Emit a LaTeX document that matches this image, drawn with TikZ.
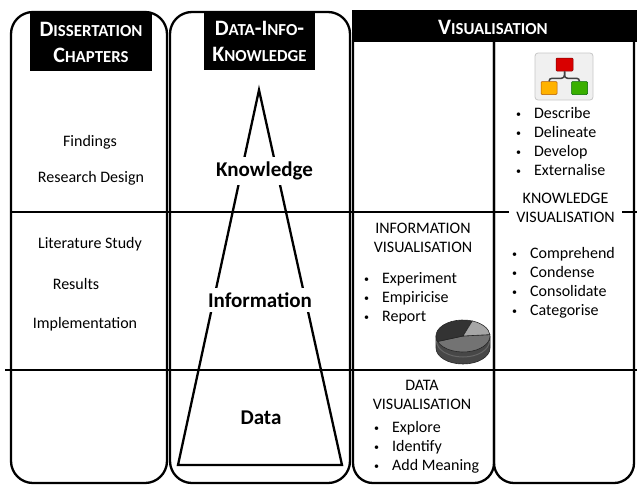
\documentclass[tikz,border=0pt]{standalone}
\usepackage{fontspec}
\setmainfont{Carlito}
\newcommand\hcap[2]{{\fontsize{22}{26}\selectfont #1}{\fontsize{16.8}{26}\selectfont #2}}
\newcommand\bul{\makebox[18pt][l]{\raisebox{1pt}{\fontsize{10}{10}\selectfont\textbullet}}}
\begin{document}
\begin{tikzpicture}[x=1pt,y=-1pt,line width=2.3pt,
  hdr/.style={fill=black,text=white,font=\bfseries\fontsize{22}{26}\selectfont,align=center,inner sep=0pt},
  lbl/.style={font=\fontsize{16}{19}\selectfont,inner sep=0pt},
  big/.style={font=\fontsize{21}{24}\selectfont\bfseries,fill=white,inner xsep=2pt,inner ysep=5pt},
  vcap/.style={font=\fontsize{16}{19}\selectfont,align=center,inner sep=1pt},
  item/.style={font=\fontsize{16}{19}\selectfont,anchor=west,inner sep=0pt,text height=9.5pt,text depth=3pt},
  kbox/.style={draw,line width=0.5pt,rounded corners=1pt,minimum width=16pt,minimum height=13pt,inner sep=0pt}]
\useasboundingbox (0,0) rectangle (637,485);
% columns
\draw[rounded corners=22] (11,12) rectangle (167,483);
\draw[rounded corners=22] (170,12) rectangle (350,483);
\draw[rounded corners=20] (353,40) -- (353,483) -- (494,483) -- (494,40);
\draw[rounded corners=20] (494,40) -- (494,483) -- (634,483) -- (634,40);
\fill (352,10) rectangle (637,42);
% rows
\draw (11,212) -- (637,212);
\draw (5,370) -- (637,370);
% headers
\node[hdr,minimum width=122,minimum height=58] (diss) at (91,42) {\hcap{D}{ISSERTATION}\\\hcap{C}{HAPTERS}};
\node[hdr,minimum width=111,minimum height=57] (dik) at (259.5,41.5) {\hcap{D}{ATA}-\hcap{I}{NFO}-\\\hcap{K}{NOWLEDGE}};
\node[hdr] (vis) at (493,27) {\hcap{V}{ISUALISATION}};
% chapters
\node[lbl] (find) at (90,142) {Findings};
\node[lbl] (rdes) at (91,178) {Research Design};
\node[lbl] (lit) at (90,244) {Literature Study};
\node[lbl] (res) at (76,284) {Results};
\node[lbl] (impl) at (85,324) {Implementation};
% pyramid
\coordinate (apex) at (259,90);
\coordinate (bl) at (178,465);
\coordinate (br) at (342,465);
\draw (bl) -- (apex) -- (br) -- cycle;
\node[big] (know) at (264.5,171) {Knowledge};
\node[big] (info) at (260,300) {Information};
\node[big] (data) at (261,418) {Data};
% information visualisation
\node[vcap] (infovis) at (423,238) {INFORMATION\\VISUALISATION};
\foreach \t [count=\i] in {Experiment,Empiricise,Report}
  \node[item] (iv\i) at (363,{280+19*(\i-1)}) {\bul\t};
% data visualisation
\node[vcap] (datavis) at (422,395) {DATA\\VISUALISATION};
\foreach \t [count=\i] in {Explore,Identify,Add Meaning}
  \node[item] (dv\i) at (373,{429+19*(\i-1)}) {\bul\t};
% knowledge visualisation
\foreach \t [count=\i] in {Describe,Delineate,Develop,Externalise}
  \node[item] (kd\i) at (515,{115+19*(\i-1)}) {\bul\t};
\node[vcap,fill=white,inner xsep=7pt] (knowvis) at (565.5,208) {KNOWLEDGE\\VISUALISATION};
\foreach \t [count=\i] in {Comprehend,Condense,Consolidate,Categorise}
  \node[item] (kc\i) at (511,{255+19*(\i-1)}) {\bul\t};
% pie chart
\begin{scope}[shift={(463,336)},line width=0.6pt,draw=black!85]
  \filldraw[fill=black!72] (-27,0) -- (-27,12) arc[start angle=180,end angle=0,x radius=27,y radius=16] -- (27,0) -- cycle;
  \draw[black!60,line width=1pt] (-26.5,5) arc[start angle=180,end angle=0,x radius=26.5,y radius=16];
  \filldraw[fill=black!55] (0,0) -- (-200:27 and 16) arc[start angle=-200,end angle=-365,x radius=27,y radius=16] -- cycle;
  \filldraw[fill=black!80] (0,0) -- (-70:27 and 16) arc[start angle=-70,end angle=-200,x radius=27,y radius=16] -- cycle;
  \filldraw[fill=black!35] (0,0) -- (-5:27 and 16) arc[start angle=-5,end angle=-70,x radius=27,y radius=16] -- cycle;
\end{scope}
% hierarchy icon
\filldraw[fill=black!6,draw=black!22,line width=0.8pt,rounded corners=3] (535,53) rectangle (593,100);
\node[kbox,fill=red!85!black,draw=red!50!black,minimum width=17pt] (kred) at (564.5,64.5) {};
\node[kbox,fill=orange!60!yellow,draw=orange!70!black] (kyel) at (549,88) {};
\node[kbox,fill=green!55!black!70!lime,draw=green!40!black] (kgrn) at (579.5,88) {};
\draw[line width=1.5pt,black!75,rounded corners=3] (kred.south) -- ++(0,7) -| (kyel.north);
\draw[line width=1.5pt,black!75,rounded corners=3] (kred.south) -- ++(0,7) -| (kgrn.north);
\end{tikzpicture}
\end{document}
